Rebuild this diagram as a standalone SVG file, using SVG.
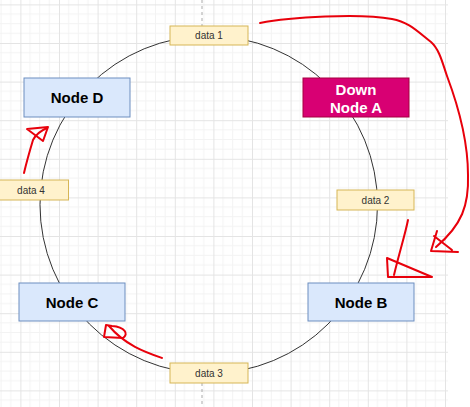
<svg xmlns="http://www.w3.org/2000/svg" width="470" height="407" viewBox="0 0 470 407">
<style>
.node{fill:#dae8fc;stroke:#6c8ebf;stroke-width:1}
.down{fill:#d80073;stroke:#a50040;stroke-width:1}
.data{fill:#fff2cc;stroke:#d6b656;stroke-width:1}
.nt{font-family:"Liberation Sans",Arial,sans-serif;font-size:15px;font-weight:bold;fill:#000;text-anchor:middle;dominant-baseline:central}
.wt{fill:#fff}
.dt{font-family:"Liberation Sans",Arial,sans-serif;font-size:10px;fill:#333;text-anchor:middle;dominant-baseline:central}
.red{fill:none;stroke:#e8000b;stroke-width:2;stroke-linecap:round;stroke-linejoin:round}
</style>
<defs>
<pattern id="grid" patternUnits="userSpaceOnUse" x="20.4" y="4.4" width="38.6" height="38.6">
<path d="M9.65,0V38.6M19.3,0V38.6M28.95,0V38.6M0,9.65H38.6M0,19.3H38.6M0,28.95H38.6" stroke="#f3f3f3" stroke-width="1" fill="none"/>
<path d="M0.5,0V38.6M0,0.5H38.6" stroke="#e4e4e4" stroke-width="1" fill="none"/>
</pattern>
</defs>
<rect x="0" y="0" width="470" height="407" fill="#fff"/>
<rect x="0" y="0" width="448" height="407" fill="url(#grid)"/>
<g id="connectors">
<line x1="202" y1="0" x2="202" y2="26" stroke="#aaa" stroke-width="1" stroke-dasharray="3,3"/>
<line x1="202" y1="383" x2="202" y2="407" stroke="#aaa" stroke-width="1" stroke-dasharray="3,3"/>
<circle cx="208.75" cy="204.7" r="168.75" fill="none" stroke="#333" stroke-width="1"/>
</g>
<g id="data1"><rect class="data" x="170" y="26" width="78" height="19"/><text class="dt" x="209" y="35.5">data 1</text></g>
<g id="data2"><rect class="data" x="337" y="190" width="77" height="20"/><text class="dt" x="375.5" y="200">data 2</text></g>
<g id="data3"><rect class="data" x="170" y="363" width="78" height="20"/><text class="dt" x="209" y="373">data 3</text></g>
<g id="data4"><rect class="data" x="-10" y="180" width="78.5" height="20"/><text class="dt" x="31" y="190">data 4</text></g>
<g id="nodeD"><rect class="node" x="24" y="78" width="106" height="39"/><text class="nt" x="77" y="97.5">Node D</text></g>
<g id="nodeA"><rect class="down" x="303" y="78" width="106" height="39"/><text class="nt wt" x="356" y="89.5">Down</text><text class="nt wt" x="356" y="107.5">Node A</text></g>
<g id="nodeC"><rect class="node" x="19" y="283" width="106" height="38"/><text class="nt" x="72" y="302">Node C</text></g>
<g id="nodeB"><rect class="node" x="308" y="283" width="106" height="38"/><text class="nt" x="361" y="302">Node B</text></g>
<g id="annotations">
<path class="red" d="M260,23 C290,17 360,13 392,19 C410,22 420,34 431,42 C440,50 443,65 447,76 C456,100 468,140 468,175 C469,205 462,225 436,247"/>
<path class="red" d="M437,231 L431,251 L458,252 M434,236 L452,250"/>
<path class="red" d="M408,220 C405,235 400,250 394,275"/>
<path class="red" d="M387,258 L388,277 L432,277 L387,258"/>
<path class="red" d="M24,173 C27,160 30,150 33,140 C36,134 40,131 47,128"/>
<path class="red" d="M27,129 L48,127 L43,141 Z"/>
<path class="red" d="M162,358 C145,352 125,345 109,326"/>
<path class="red" d="M106,325 L104,337 L123,338 C129,334 125,327 112,326 Z"/>
</g>
</svg>
